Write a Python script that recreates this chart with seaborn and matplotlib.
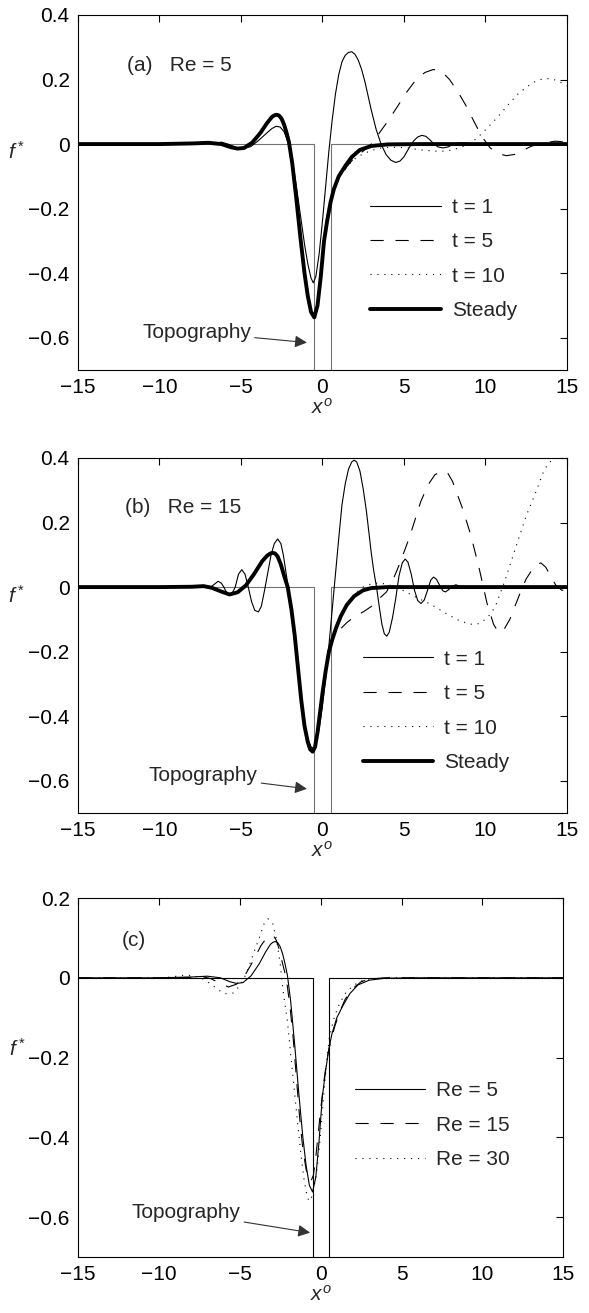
import numpy as np
import seaborn as sns
import matplotlib.pyplot as plt

# ---- data ------------------------------------------------------------------
# topography (rectangular trench between x = -0.5 and 0.5)
topo_x = [-15, -0.5, -0.5, 0.5, 0.5, 15]
topo_y = [0, 0, -1, -1, 0, 0]

# panel (a), Re = 5
steady_a_x = [-15, -10, -8, -7, -6.2, -5.6, -5.2, -4.8, -4.3, -3.8, -3.4, -3.1, -2.95, -2.8,
              -2.65, -2.5, -2.35, -2.2, -2.05, -1.85, -1.6, -1.35, -1.1, -0.9, -0.7, -0.5, -0.3,
              -0.1, 0.1, 0.3, 0.5, 0.7, 1.0, 1.4, 1.8, 2.3, 3.0, 4.0, 6, 15]
steady_a_y = [0, 0, 0.002, 0.004, 0.0, -0.01, -0.014, -0.012, 0.005, 0.035, 0.065, 0.084, 0.089,
              0.091, 0.088, 0.078, 0.06, 0.035, 0.005, -0.06, -0.17, -0.29, -0.4, -0.47, -0.52,
              -0.537, -0.5, -0.41, -0.3, -0.235, -0.18, -0.14, -0.1, -0.068, -0.04, -0.018,
              -0.006, -0.001, 0, 0]

t1_a_x = [-15, -10, -8, -7, -6.5, -6.2, -5.8, -5.3, -4.9, -4.4, -3.9, -3.4, -3.1, -2.85, -2.6,
          -2.35, -2.1, -1.85, -1.6, -1.35, -1.1, -0.9, -0.7, -0.56, -0.4, -0.2, 0.0, 0.2, 0.4,
          0.6, 0.8, 1.0, 1.2, 1.4, 1.6, 1.8, 2.0, 2.2, 2.4, 2.6, 2.8, 3.0, 3.3, 3.6, 3.9, 4.2,
          4.5, 4.75, 5.0, 5.2, 5.4, 5.6, 5.85, 6.1, 6.35, 6.6, 6.85, 7.1, 7.4, 7.7, 8.0, 8.4,
          8.8, 9.2, 10, 15]
t1_a_y = [0, 0, 0.002, 0.004, 0.003, 0.006, 0.0, -0.01, -0.014, -0.008, 0.012, 0.035, 0.048,
          0.055, 0.053, 0.038, 0.005, -0.05, -0.13, -0.22, -0.31, -0.37, -0.415, -0.43, -0.41,
          -0.34, -0.24, -0.13, -0.02, 0.075, 0.155, 0.215, 0.255, 0.275, 0.284, 0.286, 0.278,
          0.26, 0.232, 0.195, 0.15, 0.105, 0.045, 0.0, -0.032, -0.05, -0.057, -0.053, -0.04,
          -0.022, -0.005, 0.01, 0.022, 0.027, 0.024, 0.013, 0.0, -0.009, -0.012, -0.009,
          -0.002, 0.004, 0.003, 0.0, 0, 0]

# t = 5 and t = 10 coincide with the steady curve up to x ~ 0.7
t5_a_x = [1.0, 1.5, 2.0, 2.5, 3.0, 3.5, 4.0, 4.6, 5.2, 5.75, 6.3, 6.8, 7.3, 7.8, 8.3, 8.8, 9.3,
          9.8, 10.3, 10.8, 11.3, 11.8, 12.3, 12.8, 13.3, 13.8, 14.3, 15]
t5_a_y = [-0.11, -0.07, -0.04, -0.022, 0.0, 0.035, 0.07, 0.116, 0.163, 0.2, 0.222, 0.231, 0.226,
          0.2, 0.163, 0.12, 0.07, 0.022, -0.012, -0.03, -0.036, -0.032, -0.02, -0.007, 0.0,
          0.005, 0.009, 0.006]

t10_a_x = [1.0, 1.5, 2.0, 2.5, 3.0, 3.5, 4.0, 4.5, 5.0, 5.5, 6.0, 6.5, 7.0, 7.5, 8.0, 8.5, 9.0,
           9.5, 10.0, 10.5, 11.0, 11.5, 12.0, 12.5, 13.0, 13.5, 14.0, 14.5, 15]
t10_a_y = [-0.105, -0.07, -0.045, -0.03, -0.02, -0.013, -0.01, -0.01, -0.011, -0.014, -0.018,
           -0.02, -0.022, -0.022, -0.018, -0.01, 0.0, 0.019, 0.044, 0.07, 0.098, 0.128, 0.155,
           0.176, 0.192, 0.202, 0.203, 0.195, 0.18]

# panel (b), Re = 15
steady_b_x = [-15, -10, -8, -7.3, -6.8, -6.3, -5.7, -5.2, -4.7, -4.2, -3.7, -3.4, -3.2, -3.05,
              -2.9, -2.75, -2.55, -2.35, -2.13, -1.9, -1.7, -1.5, -1.3, -1.1, -0.9, -0.75, -0.6,
              -0.45, -0.3, -0.15, 0.0, 0.2, 0.4, 0.62, 0.85, 1.13, 1.5, 1.95, 2.5, 3.0, 4.0, 15]
steady_b_y = [0, 0, 0.001, 0.003, -0.002, -0.012, -0.023, -0.016, 0.005, 0.04, 0.08, 0.097,
              0.104, 0.106, 0.104, 0.095, 0.07, 0.035, 0.0, -0.07, -0.15, -0.25, -0.35, -0.43,
              -0.48, -0.503, -0.51, -0.495, -0.45, -0.39, -0.33, -0.26, -0.2, -0.16, -0.125,
              -0.09, -0.055, -0.028, -0.01, -0.003, 0, 0]

t1_b_x = [-15, -10, -8, -7.3, -6.9, -6.6, -6.4, -6.2, -6.05, -5.85, -5.7, -5.55, -5.35, -5.15,
          -4.95, -4.75, -4.55, -4.35, -4.15, -3.93, -3.75, -3.55, -3.35, -3.15, -2.95, -2.75,
          -2.55, -2.4, -2.25, -2.1, -1.9, -1.7, -1.5, -1.3, -1.1, -0.9, -0.7, -0.55, -0.4, -0.2,
          0.0, 0.2, 0.4, 0.6, 0.8, 1.0, 1.2, 1.4, 1.6, 1.8, 1.95, 2.1, 2.3, 2.5, 2.7, 2.85,
          3.0, 3.15, 3.32, 3.5, 3.65, 3.8, 3.95, 4.1, 4.3, 4.5, 4.7, 4.9, 5.08, 5.25, 5.45,
          5.65, 5.85, 6.05, 6.25, 6.45, 6.65, 6.82, 7.0, 7.2, 7.4, 7.55, 7.75, 8.0, 8.2, 8.45,
          8.8, 15]
t1_b_y = [0, 0, 0.001, 0.003, -0.002, 0.01, 0.018, 0.012, 0.0, -0.02, -0.026, -0.02, 0.0, 0.04,
          0.054, 0.04, 0.0, -0.045, -0.072, -0.077, -0.06, -0.01, 0.045, 0.1, 0.135, 0.149,
          0.135, 0.1, 0.05, 0.0, -0.08, -0.16, -0.25, -0.34, -0.42, -0.47, -0.495, -0.5, -0.48,
          -0.44, -0.37, -0.28, -0.18, -0.07, 0.04, 0.15, 0.255, 0.32, 0.365, 0.388, 0.393,
          0.388, 0.36, 0.305, 0.235, 0.17, 0.105, 0.05, 0.0, -0.065, -0.115, -0.145, -0.152,
          -0.14, -0.095, -0.035, 0.035, 0.075, 0.087, 0.077, 0.04, -0.01, -0.042, -0.051,
          -0.04, -0.01, 0.022, 0.031, 0.024, 0.005, -0.012, -0.015, -0.008, 0.004, 0.007,
          0.002, 0.0, 0]

t5_b_x = [0.85, 1.1, 1.5, 2.0, 2.5, 3.0, 3.5, 3.93, 4.35, 4.74, 5.34, 6.05, 6.5, 6.9, 7.33,
          7.7, 7.98, 8.58, 9.09, 9.6, 10.1, 10.5, 10.8, 11.1, 11.5, 11.85, 12.2, 12.5, 12.83,
          13.1, 13.4, 13.7, 14.0, 14.33, 14.7, 15]
t5_b_y = [-0.14, -0.13, -0.11, -0.09, -0.077, -0.06, -0.035, -0.015, 0.025, 0.072, 0.154, 0.267,
          0.318, 0.348, 0.36, 0.352, 0.328, 0.246, 0.164, 0.062, -0.05, -0.115, -0.14, -0.135,
          -0.1, -0.055, -0.01, 0.025, 0.051, 0.068, 0.075, 0.062, 0.035, 0.005, -0.01, -0.008]

t10_b_x = [0.85, 1.2, 1.6, 2.0, 2.5, 3.0, 3.5, 4.0, 4.5, 4.94, 5.5, 6.0, 6.56, 7.2, 7.77, 8.4,
           9.09, 9.5, 9.8, 10.2, 10.6, 11.2, 11.8, 12.5, 13.04, 13.54, 13.86, 14.3, 15]
t10_b_y = [-0.12, -0.08, -0.045, -0.02, 0.0, 0.01, 0.013, 0.008, 0.0, -0.01, -0.025, -0.038,
           -0.051, -0.07, -0.087, -0.104, -0.115, -0.115, -0.108, -0.09, -0.062, 0.02, 0.113,
           0.22, 0.287, 0.354, 0.384, 0.4, 0.43]

# panel (c): steady solutions (Re = 5 and 15 are the steady curves above)
re30_x = [-15, -10, -9.2, -8.6, -8.0, -7.4, -6.8, -6.3, -5.9, -5.4, -5.0, -4.6, -4.2, -3.8,
          -3.5, -3.25, -2.95, -2.7, -2.5, -2.3, -2.06, -1.75, -1.44, -1.2, -1.02, -0.85, -0.73,
          -0.6, -0.45, -0.3, -0.19, 0.0, 0.23, 0.4, 0.54, 0.8, 1.06, 1.5, 2.0, 2.5, 3.0, 4.0, 15]
re30_y = [0, 0, 0.002, 0.006, 0.006, 0.0, -0.015, -0.031, -0.04, -0.038, -0.02, 0.01, 0.055, 0.1,
          0.135, 0.148, 0.135, 0.09, 0.035, -0.04, -0.107, -0.232, -0.358, -0.45, -0.508, -0.545,
          -0.56, -0.555, -0.535, -0.5, -0.47, -0.39, -0.274, -0.2, -0.149, -0.105, -0.074, -0.04,
          -0.02, -0.008, -0.003, 0, 0]

labels_t = ["t = 1", "t = 5", "t = 10", "Steady"]
labels_re = ["Re = 5", "Re = 15", "Re = 30"]
x_ticks = [-15, -10, -5, 0, 5, 10, 15]
x_ticklabels = ["\u221215", "\u221210", "\u22125", "0", "5", "10", "15"]
y_ticks_ab = [-0.6, -0.4, -0.2, 0, 0.2, 0.4]
y_ticklabels_ab = ["\u22120.6", "\u22120.4", "\u22120.2", "0", "0.2", "0.4"]
y_ticks_c = [-0.6, -0.4, -0.2, 0, 0.2]
y_ticklabels_c = ["\u22120.6", "\u22120.4", "\u22120.2", "0", "0.2"]

# ---- styling ----------------------------------------------------------------
sns.set_theme(style="white")
plt.rcParams["font.family"] = ["Liberation Sans", "DejaVu Sans"]
plt.rcParams["mathtext.fontset"] = "custom"
plt.rcParams["mathtext.rm"] = "Liberation Sans"
plt.rcParams["mathtext.it"] = "Liberation Sans:italic"
plt.rcParams["lines.scale_dashes"] = False
FS = 15

DASH = (0, (9.5, 8.5))
DOT = (0, (0.8, 4.2))
THIN = 0.8
THICK = 2.8


def line(ax, x, y, **kw):
    sns.lineplot(x=x, y=y, ax=ax, sort=False, estimator=None, **kw)


def style_axes(ax, yticks, yticklabels, ylim, ylab_y):
    ax.set_xlim(-15, 15)
    ax.set_ylim(*ylim)
    ax.set_xticks(x_ticks)
    ax.set_xticklabels(x_ticklabels)
    ax.set_yticks(yticks)
    ax.set_yticklabels(yticklabels)
    ax.tick_params(direction="in", length=5, width=0.8, top=True, right=True,
                   labelsize=FS, pad=6, colors="black")
    for s in ax.spines.values():
        s.set_color("black")
        s.set_linewidth(0.8)
    ax.set_xlabel(r"$x^o$", fontsize=FS, labelpad=0)
    ax.set_ylabel(r"$f^*$", fontsize=FS, rotation=0)
    ax.yaxis.set_label_coords(-0.125, ylab_y)


def topography_note(ax, text_xy, tip_xy):
    ax.annotate("Topography", xy=tip_xy, xytext=text_xy, fontsize=FS,
                ha="center", va="center",
                arrowprops=dict(arrowstyle="-|>", color="0.2", lw=0.8,
                                mutation_scale=18, shrinkA=0, shrinkB=0))


def legend(ax, handles, labels, x0, y0):
    ax.legend(handles, labels, loc="upper left", bbox_to_anchor=(x0, y0),
              frameon=False, fontsize=FS, borderpad=0, borderaxespad=0,
              handlelength=3.4, handletextpad=0.5, labelspacing=0.74)


fig = plt.figure(figsize=(5.89, 13.13), dpi=100)
ax_a = fig.add_axes([0.1324, 0.7182, 0.83, 0.2704])
ax_b = fig.add_axes([0.1324, 0.3808, 0.83, 0.2704])
ax_c = fig.add_axes([0.1324, 0.04265, 0.824, 0.2734])

panels = [
    (ax_a, steady_a_x, steady_a_y, t1_a_x, t1_a_y, t5_a_x, t5_a_y, t10_a_x, t10_a_y,
     "(a)   Re = 5", (-12.0, 0.242), 0.485, 0.598, (-7.7, -0.583), (-0.95, -0.615), 0.585),
    (ax_b, steady_b_x, steady_b_y, t1_b_x, t1_b_y, t5_b_x, t5_b_y, t10_b_x, t10_b_y,
     "(b)   Re = 15", (-12.1, 0.247), 0.46, 0.582, (-7.3, -0.585), (-0.95, -0.625), 0.58),
]

for (ax, sx, sy, x1, y1, x5, y5, x10, y10, title, title_xy,
     leg_y, leg_x, topo_text, topo_tip, ylab_y) in panels:
    line(ax, topo_x, topo_y, color="0.45", linewidth=THIN)
    # transient curves share the steady curve left of x ~ 0.7
    n_left = sum(1 for v in sx if v <= 0.7)
    line(ax, sx[:n_left] + x10, sy[:n_left] + y10, color="black", linewidth=THIN, linestyle=DOT)
    line(ax, sx[:n_left] + x5, sy[:n_left] + y5, color="black", linewidth=THIN, linestyle=DASH)
    line(ax, x1, y1, color="black", linewidth=THIN)
    line(ax, sx, sy, color="black", linewidth=THICK)
    lines = ax.get_lines()
    legend(ax, [lines[3], lines[2], lines[1], lines[4]], labels_t, leg_x, leg_y)
    ax.text(title_xy[0], title_xy[1], title, fontsize=FS, ha="left", va="center")
    topography_note(ax, topo_text, topo_tip)
    style_axes(ax, y_ticks_ab, y_ticklabels_ab, (-0.7, 0.4), ylab_y)

# panel (c)
line(ax_c, topo_x, topo_y, color="black", linewidth=THIN)
line(ax_c, re30_x, re30_y, color="black", linewidth=THIN, linestyle=DOT)
line(ax_c, steady_b_x, steady_b_y, color="black", linewidth=THIN, linestyle=DASH)
line(ax_c, steady_a_x, steady_a_y, color="black", linewidth=THIN)
lines_c = ax_c.get_lines()
legend(ax_c, [lines_c[3], lines_c[2], lines_c[1]], labels_re, 0.57, 0.49)
ax_c.text(-12.3, 0.093, "(c)", fontsize=FS, ha="left", va="center")
topography_note(ax_c, (-8.3, -0.589), (-0.65, -0.639))
style_axes(ax_c, y_ticks_c, y_ticklabels_c, (-0.7, 0.2), 0.55)

fig.savefig("out.png", dpi=100)
